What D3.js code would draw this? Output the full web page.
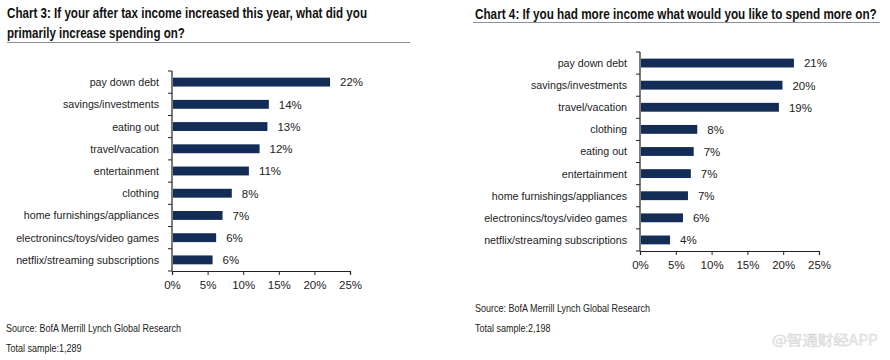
<!DOCTYPE html>
<html><head><meta charset="utf-8">
<script src="https://cdn.jsdelivr.net/npm/d3@7"></script>
<style>
html,body{margin:0;padding:0;background:#fff;}
svg{display:block;font-family:"Liberation Sans",Arial,sans-serif;}
</style></head>
<body><svg id="c" width="890" height="360"></svg>
<script>
// ---- Data ----
const categories3 = ["pay down debt","savings/investments","eating out","travel/vacation","entertainment","clothing","home furnishings/appliances","electronincs/toys/video games","netflix/streaming subscriptions"];
const values3 = [22.2, 13.6, 13.4, 12.3, 10.8, 8.4, 7.1, 6.2, 5.7];
const labels3 = ["22%","14%","13%","12%","11%","8%","7%","6%","6%"];

const categories4 = ["pay down debt","savings/investments","travel/vacation","clothing","eating out","entertainment","home furnishings/appliances","electronincs/toys/video games","netflix/streaming subscriptions"];
const values4 = [21.5, 19.9, 19.4, 8.0, 7.5, 7.1, 6.7, 6.0, 4.2];
const labels4 = ["21%","20%","19%","8%","7%","7%","7%","6%","4%"];

const tickValues = [0,5,10,15,20,25];
const tickLabels = ["0%","5%","10%","15%","20%","25%"];

const title3 = ["Chart 3: If your after tax income increased this year, what did you","primarily increase spending on?"];
const title4 = ["Chart 4: If you had more income what would you like to spend more on?"];
const source3 = ["Source: BofA Merrill Lynch Global Research","Total sample:1,289"];
const source4 = ["Source: BofA Merrill Lynch Global Research","Total sample:2,198"];

const svg = d3.select("#c");
const BAR = "#132d57", TXT = "#222";

// place a text at (x,y) horizontally scaled so that its width equals target
function placeFit(parent, x, y, str, attrs, target, anchor){
  const g = parent.append("g");
  const t = g.append("text").text(str);
  Object.entries(attrs).forEach(([k,v])=>t.attr(k,v));
  if (anchor) t.attr("text-anchor", anchor);
  const w = t.node().getComputedTextLength();
  const s = typeof target === "number" && target > 0 ? target / w : 1;
  g.attr("transform", `translate(${x},${y}) scale(${s},1)`);
  return t;
}
function placeScaled(parent, x, y, str, attrs, ratio, anchor){
  const g = parent.append("g").attr("transform", `translate(${x},${y}) scale(${ratio},1)`);
  const t = g.append("text").text(str);
  Object.entries(attrs).forEach(([k,v])=>t.attr(k,v));
  if (anchor) t.attr("text-anchor", anchor);
  return t;
}

function drawChart(o){
  const g = svg.append("g");
  // title
  o.title.forEach((t,i)=>{
    placeFit(g, o.tx, o.ty + i*19.5, t, {"font-size":14,"font-weight":"bold","fill":"#111"}, o.tw[i]);
  });
  g.append("line").attr("x1", o.rx1).attr("x2", o.rx2).attr("y1", o.ry).attr("y2", o.ry)
    .attr("stroke","#8a8f99").attr("stroke-width",1.2);

  const x = d3.scaleLinear().domain([0,25]).range([o.x0, o.x1]);
  const y = d3.scaleBand().domain(o.cats).range([o.y0, o.y1]).paddingInner(0.6).paddingOuter(0.3);
  const step = y.step(), gap = step - y.bandwidth();

  // bars
  g.selectAll("rect.bar").data(o.vals).enter().append("rect")
    .attr("x", x(0)+1).attr("y",(d,i)=>y(o.cats[i]))
    .attr("width", d=>x(d)-x(0)-1).attr("height", y.bandwidth()).attr("fill", BAR);

  // value labels
  g.selectAll("text.val").data(o.vals).enter().append("text")
    .attr("x", d=>x(d)+10).attr("y",(d,i)=>y(o.cats[i])+y.bandwidth()/2)
    .attr("dy","0.38em").attr("font-size",11.5).attr("fill",TXT)
    .text((d,i)=>o.labels[i]);

  // category labels
  o.cats.forEach(c=>{
    placeScaled(g, o.x0-13, y(c)+y.bandwidth()/2, c,
      {"dy":"0.36em","font-size":11,"fill":TXT}, 0.97, "end");
  });

  // y axis line + ticks at band boundaries
  g.append("line").attr("x1",o.x0).attr("x2",o.x0).attr("y1",o.y0).attr("y2",o.y1).attr("stroke","#222").attr("stroke-width",1.2);
  const bounds = o.cats.map(c=>y(c)-gap/2).concat([o.y1]);
  g.selectAll("line.yt").data(bounds).enter().append("line")
    .attr("x1",o.x0-4).attr("x2",o.x0).attr("y1",d=>d).attr("y2",d=>d).attr("stroke","#222");

  // x axis
  const xa = d3.axisBottom(x).tickValues(tickValues).tickSize(4).tickFormat((d,i)=>tickLabels[i]);
  const ax = g.append("g").attr("transform",`translate(0,${o.y1})`).call(xa);
  ax.select(".domain").attr("stroke","#222").attr("stroke-width",1.2);
  ax.selectAll(".tick line").attr("stroke","#222");
  ax.selectAll(".tick text").attr("font-size",11.5).attr("fill",TXT).attr("y",10)
    .attr("font-family","Liberation Sans, Arial, sans-serif");

  // source
  o.source.forEach((s,i)=>{
    placeScaled(g, o.sx, o.sy+i*20, s, {"font-size":10,"fill":"#222"}, 0.9);
  });
}

drawChart({title:title3, tx:7, ty:18, tw:[360,178], rx1:7, rx2:410, ry:42.5,
  cats:categories3, vals:values3, labels:labels3,
  x0:172, x1:350, y0:71, y1:271, source:source3, sx:6, sy:332});
drawChart({title:title4, tx:475, ty:19, tw:[402], rx1:473, rx2:880, ry:22.5,
  cats:categories4, vals:values4, labels:labels4,
  x0:640, x1:819, y0:52, y1:251, source:source4, sx:475, sy:312});

// watermark
placeFit(svg, 772, 345, "@智通财经APP",
  {"font-size":14,"font-family":"'Noto Sans CJK SC', sans-serif","fill":"#f4f4f4","stroke":"#d2d2d2","stroke-width":0.45}, 106);
</script>
</body></html>
